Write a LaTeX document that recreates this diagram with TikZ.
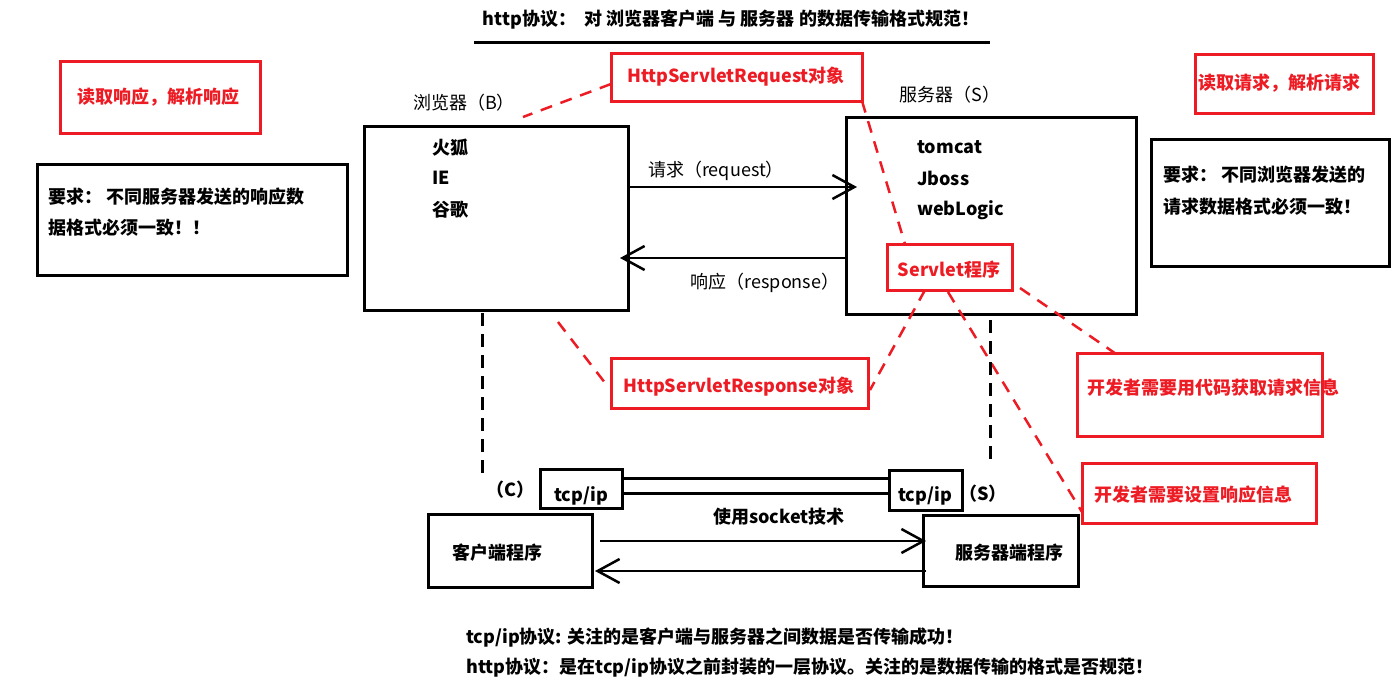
\documentclass[tikz,border=0pt]{standalone}
\usepackage{fontspec}
\setmainfont{Noto Sans CJK SC}
\usetikzlibrary{arrows.meta}
\definecolor{pred}{HTML}{ED1C24}
\begin{document}
\begin{tikzpicture}[x=1pt,y=-1pt,
  font=\fontsize{18}{21}\selectfont,
  bbox/.style={draw=black,line width=3pt,inner sep=0pt},
  rbox/.style={draw=pred,line width=3pt,inner sep=0pt},
  btxt/.style={font=\fontsize{18}{21}\selectfont\bfseries,inner sep=0pt},
  rtxt/.style={font=\fontsize{18}{21}\selectfont\bfseries,text=pred,inner sep=0pt},
  ntxt/.style={font=\fontsize{18}{21}\selectfont,inner sep=0pt},
  conn/.style={line width=2.5pt,-{Straight Barb[length=22pt,width=24pt]}},
  rdash/.style={draw=pred,line width=2.5pt,dash pattern=on 12pt off 9pt},
  kdash/.style={draw=black,line width=3pt,dash pattern=on 13pt off 8pt}]
\useasboundingbox (0,0) rectangle (1400,699);
\fill[white] (0,0) rectangle (1400,699);

% title
\node[btxt] (title) at (731,20) {http协议： \ 对 浏览器客户端 与 服务器 的数据传输格式规范！};
\coordinate (ulA) at (474,42);
\coordinate (ulB) at (990,42);
\draw[line width=3pt] (ulA) -- (ulB);

% left boxes
\node[rbox,minimum width=200pt,minimum height=72pt] (readresp) at (160,97) {};
\node[rtxt] (readresptxt) at (158,97) {读取响应，解析响应};
\node[bbox,minimum width=310pt,minimum height=111pt] (reqL) at (192,219.5) {};
\node[btxt,anchor=west] (reqL1) at (48,197) {要求： 不同服务器发送的响应数};
\node[btxt,anchor=west] (reqL2) at (48,228) {据格式必须一致！！};

% right boxes
\node[rbox,minimum width=178pt,minimum height=59pt] (readreq) at (1284,83.5) {};
\node[rtxt] (readreqtxt) at (1279,83) {读取请求，解析请求};
\node[bbox,minimum width=238pt,minimum height=127pt] (reqR) at (1270,202.5) {};
\node[btxt,anchor=west] (reqR1) at (1163,175) {要求： 不同浏览器发送的};
\node[btxt,anchor=west] (reqR2) at (1163,207) {请求数据格式必须一致！};

% browser
\node[ntxt] (blabel) at (464,103) {浏览器（B）};
\node[bbox,minimum width=264pt,minimum height=184pt] (browser) at (496,218) {};
\node[btxt,anchor=west] (ff) at (432,148) {火狐};
\node[btxt,anchor=west] (ie) at (432,178) {IE};
\node[btxt,anchor=west] (gg) at (432,210) {谷歌};

% server
\node[ntxt] (slabel) at (950,95) {服务器（S）};
\node[bbox,minimum width=290pt,minimum height=197pt] (server) at (991,215.5) {};
\node[btxt,anchor=west] (tc) at (917,147) {tomcat};
\node[btxt,anchor=west] (jb) at (917,178) {Jboss};
\node[btxt,anchor=west] (wl) at (917,210) {webLogic};

% servlet
\node[rbox,fill=white,minimum width=125pt,minimum height=46pt] (servlet) at (949.5,267) {};
\node[rtxt] (servlettxt) at (949,270) {Servlet程序};

% request / response arrows
\coordinate (rqA) at (628,187);
\coordinate (rqB) at (857,187);
\draw[conn] (rqA) -- (rqB);
\node[ntxt] (rqlab) at (716,171) {请求（request）};
\coordinate (rsA) at (848,258);
\coordinate (rsB) at (620,258);
\draw[conn] (rsA) -- (rsB);
\node[ntxt] (rslab) at (765,283) {响应（response）};

% object boxes
\node[rbox,minimum width=251pt,minimum height=48pt] (reqobj) at (736.5,77) {};
\node[rtxt] (reqobjtxt) at (736,77) {HttpServletRequest对象};
\node[rbox,minimum width=257pt,minimum height=50pt] (respobj) at (739.5,383) {};
\node[rtxt] (respobjtxt) at (739,387) {HttpServletResponse对象};

% developer boxes
\node[rbox,minimum width=245pt,minimum height=83pt] (devreq) at (1199.5,394.5) {};
\node[rtxt,anchor=west] (devreqtxt) at (1087,388) {开发者需要用代码获取请求信息};
\node[rbox,minimum width=234pt,minimum height=60pt] (devresp) at (1199,493) {};
\node[rtxt,anchor=west] (devresptxt) at (1094,495) {开发者需要设置响应信息};

% red dashed connectors
\coordinate (d1a) at (611,84);
\coordinate (d1b) at (523,117);
\draw[rdash] (d1a) -- (d1b);
\coordinate (d2a) at (862,101);
\coordinate (d2b) at (905,244);
\draw[rdash] (d2a) -- (d2b);
\coordinate (d3a) at (558,322);
\coordinate (d3b) at (609,388);
\draw[rdash] (d3a) -- (d3b);
\coordinate (d4a) at (925,290);
\coordinate (d4b) at (870,390);
\draw[rdash] (d4a) -- (d4b);
\coordinate (d5a) at (1020,288);
\coordinate (d5b) at (1122,358);
\draw[rdash] (d5a) -- (d5b);
\coordinate (d6a) at (948,292);
\coordinate (d6b) at (1082,512);
\draw[rdash] (d6a) -- (d6b);

% vertical dashed black
\coordinate (v1a) at (482,313);
\coordinate (v1b) at (482,478);
\draw[kdash] (v1a) -- (v1b);
\coordinate (v2a) at (990,320);
\coordinate (v2b) at (990,462);
\draw[kdash] (v2a) -- (v2b);

% tcp/ip
\node[btxt] (cL) at (510,490) {（C）};
\node[bbox,minimum width=82pt,minimum height=39pt] (tcpL) at (581,488.5) {};
\node[btxt] (tcpLt) at (581,496) {tcp/ip};
\node[bbox,minimum width=73pt,minimum height=40pt] (tcpR) at (925.5,490) {};
\node[btxt] (tcpRt) at (925,496) {tcp/ip};
\node[btxt] (sR) at (983,494) {（S）};
\coordinate (t1a) at (622,478);
\coordinate (t1b) at (889,478);
\coordinate (t2a) at (622,493);
\coordinate (t2b) at (889,493);
\draw[line width=3pt] (t1a) -- (t1b);
\draw[line width=3pt] (t2a) -- (t2b);

% programs
\node[bbox,minimum width=164pt,minimum height=73pt] (client) at (510,550.5) {};
\node[btxt] (clientt) at (497,553) {客户端程序};
\node[bbox,minimum width=155pt,minimum height=71pt] (sprog) at (1000.5,550.5) {};
\node[btxt] (sprogt) at (1009,553) {服务器端程序};
\node[btxt] (sock) at (779,517) {使用socket技术};
\coordinate (s1a) at (600,541);
\coordinate (s1b) at (926,541);
\draw[conn] (s1a) -- (s1b);
\coordinate (s2a) at (926,571);
\coordinate (s2b) at (595,571);
\draw[conn] (s2a) -- (s2b);

% bottom notes
\node[btxt,anchor=west] (note1) at (466,638) {tcp/ip协议: 关注的是客户端与服务器之间数据是否传输成功！};
\node[btxt,anchor=west] (note2) at (466,668) {http协议：是在tcp/ip协议之前封装的一层协议。关注的是数据传输的格式是否规范！};
\end{tikzpicture}
\end{document}
